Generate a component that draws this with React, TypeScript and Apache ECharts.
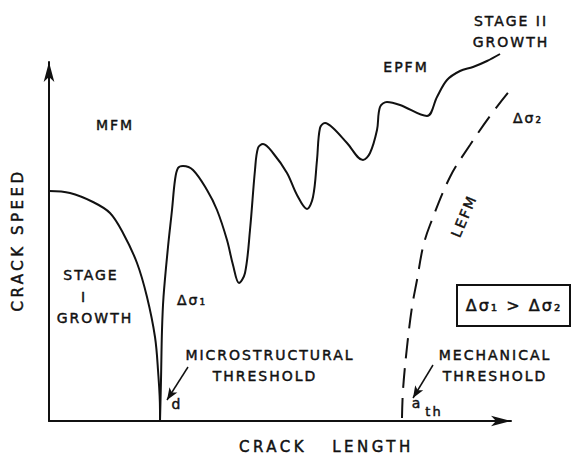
import React, { useEffect, useRef } from "react";
import * as echarts from "echarts";

// Schematic values (arbitrary units: crack length, crack speed)
const stageOneCurve: [number, number][] = [
  [0, 230], [21, 228], [44, 219], [61, 208], [74, 188], [88, 158], [98, 124],
  [106, 84], [109, 51], [111, 11], [111, 0],
];

const mainCurve: [number, number][] = [
  [111, 0], [112, 41], [113, 91], [114.5, 124], [119, 174], [123, 211], [126, 241],
  [129, 253], [134, 255], [144, 251], [158, 231], [168, 211], [178, 181], [184, 156],
  [190, 138], [196, 148], [201, 191], [206, 251], [209, 273], [214, 277], [224, 268],
  [238, 248], [248, 226], [258, 212], [264, 224], [268, 261], [271, 293], [276, 298],
  [284, 293], [298, 278], [314, 261], [321, 268], [328, 291], [331, 314], [338, 319],
  [351, 316], [378, 305], [388, 324], [398, 341], [411, 350], [424, 354], [438, 360],
  [451, 367],
];

const lefmCurve: [number, number][] = [
  [353, 3], [354, 31], [358, 74], [363, 114], [368, 141], [374, 174], [381, 196],
  [401, 244], [421, 276], [444, 309], [468, 339], [496, 369],
];

// threshold pointer arrows: [from, to]
const dArrow: [number, number][] = [[139, 54], [118, 21]];
const athArrow: [number, number][] = [[384, 56], [364, 23]];

const X_MAX = 462;
const Y_MAX = 359;

const INK = "#111";
const FAMILY = '"DejaVu Sans", sans-serif';

function label(text: string, x: number, y: number, size = 14, rotation = 0) {
  return {
    type: "text",
    x,
    y,
    rotation,
    silent: true,
    style: {
      text,
      fill: INK,
      stroke: INK,
      lineWidth: 0.45,
      font: `${size}px ${FAMILY}`,
      align: "center",
      verticalAlign: "middle",
      textAlign: "center",
      textVerticalAlign: "middle",
    },
  };
}

export default function App() {
  const ref = useRef<HTMLDivElement>(null);

  useEffect(() => {
    if (!ref.current) return;
    const chart = echarts.init(ref.current, null, { renderer: "svg" });
    const curveStyle = { color: INK, width: 2 };
    const option: any = {
      animation: false,
      backgroundColor: "#fff",
      grid: { left: 49, top: 62, width: X_MAX, height: Y_MAX, containLabel: false, outerBoundsMode: "none" },
      xAxis: {
        type: "value",
        min: 0,
        max: X_MAX,
        axisLine: { show: true, symbol: ["none", "arrow"], symbolSize: [8, 20], lineStyle: { color: INK, width: 2 } },
        axisTick: { show: false },
        axisLabel: { show: false },
        splitLine: { show: false },
      },
      yAxis: {
        type: "value",
        min: 0,
        max: Y_MAX,
        axisLine: { show: true, symbol: ["none", "arrow"], symbolSize: [8, 20], lineStyle: { color: INK, width: 2 } },
        axisTick: { show: false },
        axisLabel: { show: false },
        splitLine: { show: false },
      },
      series: [
        {
          type: "line",
          name: "Stage I",
          data: stageOneCurve,
          smooth: 0.35,
          showSymbol: false,
          symbol: "none",
          clip: false,
          silent: true,
          lineStyle: curveStyle,
          markLine: {
            silent: true,
            symbol: ["none", "arrow"],
            symbolSize: [7, 12],
            label: { show: false },
            emphasis: { disabled: true },
            lineStyle: { color: INK, width: 1.5, type: "solid" },
            data: [
              [{ coord: dArrow[0] }, { coord: dArrow[1] }],
              [{ coord: athArrow[0] }, { coord: athArrow[1] }],
            ],
          },
        },
        {
          type: "line",
          name: "EPFM",
          data: mainCurve,
          smooth: 0.35,
          showSymbol: false,
          symbol: "none",
          clip: false,
          silent: true,
          lineStyle: curveStyle,
        },
        {
          type: "line",
          name: "LEFM",
          data: lefmCurve,
          smooth: 0.35,
          showSymbol: false,
          symbol: "none",
          clip: false,
          silent: true,
          lineStyle: { color: INK, width: 2, type: [20, 10] },
        },
      ],
      graphic: [
        label("MFM", 115, 125),
        label("EPFM", 406, 67),
        label("STAGE II", 511, 21),
        label("GROWTH", 511, 42),
        label("STAGE", 91, 275),
        label("I", 84, 297),
        label("GROWTH", 95, 318),
        label("Δσ₁", 192, 300),
        label("Δσ₂", 528, 118),
        label("LEFM", 464, 216, 14, 1.17),
        label("MICROSTRUCTURAL", 270, 355),
        label("THRESHOLD", 265, 376),
        label("d", 177, 404),
        label("MECHANICAL", 495, 355),
        label("THRESHOLD", 495, 376),
        label("a", 417, 403),
        label("th", 434, 411, 13),
        {
          type: "rect",
          silent: true,
          shape: { x: 457, y: 285, width: 113, height: 41 },
          style: { fill: "none", stroke: INK, lineWidth: 2 },
        },
        label("Δσ₁ > Δσ₂", 514, 305, 16),
        label("CRACK", 273, 447, 15),
        label("LENGTH", 373, 447, 15),
        label("CRACK SPEED", 18, 240, 15, Math.PI / 2),
      ],
    };
    chart.setOption(option);
    return () => chart.dispose();
  }, []);

  return (
    <>
      <style>{`#fatigue-chart text{letter-spacing:2px}#fatigue-chart text[style*="15px"]{letter-spacing:3.5px}`}</style>
      <div
        id="fatigue-chart"
        ref={ref}
        style={{ position: "fixed", left: 0, top: 0, width: 575, height: 457, background: "#fff" }}
      />
    </>
  );
}
